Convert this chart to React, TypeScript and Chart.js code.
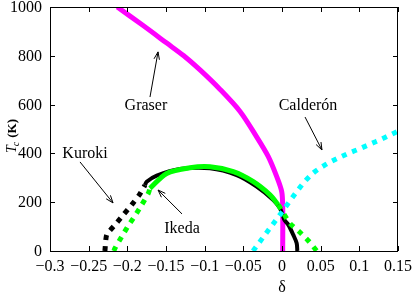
import React, { useEffect, useRef } from "react";
import { Chart, registerables } from "chart.js";

Chart.register(...registerables);

// ---- data (delta, Tc in K) ----
const graserX = [-0.213, -0.18, -0.149, -0.127, -0.106, -0.08, -0.054, -0.033, -0.0177, -0.0068, -0.0004, 0.0009, 0.0009];
const graserY = [1000, 925, 852, 800, 742, 662, 571, 469, 387, 305, 244, 181, 0];

const kurokiDotX = [-0.229, -0.2267, -0.216, -0.2052, -0.1944, -0.1845, -0.1772];
const kurokiDotY = [0, 66, 107, 148, 189, 230, 270];

const kurokiX = [-0.1772, -0.175, -0.162, -0.132, -0.093, -0.0586, -0.0327, -0.0112, -0.0026, 0.0005, 0.003, 0.0082, 0.0146, 0.019, 0.0198];
const kurokiY = [270, 284, 309, 336, 339, 311, 264, 209, 175, 150, 128, 107, 66, 32, 0];

const ikedaDotLX = [-0.2175, -0.216, -0.2073, -0.1987, -0.19, -0.1814, -0.1729, -0.1707];
const ikedaDotLY = [0, 11, 59, 104, 145, 189, 236, 257];

const ikedaX = [-0.1707, -0.1491, -0.119, -0.0931, -0.063, -0.0371, -0.0155, -0.0048];
const ikedaY = [257, 318, 341, 345, 325, 284, 230, 189];

const ikedaDotRX = [-0.0048, 0.0104, 0.0224, 0.0353, 0.045];
const ikedaDotRY = [189, 113, 79, 38, 0];

const calderonX = [-0.0375, -0.02, 0.0, 0.019, 0.0289, 0.0405, 0.0543, 0.0695, 0.085, 0.101, 0.116, 0.131, 0.146, 0.15];
const calderonY = [0, 75, 160, 243, 283, 320, 350, 376, 399, 420, 441, 462, 485, 491];

const xTicks = [-0.3, -0.25, -0.2, -0.15, -0.1, -0.05, 0, 0.05, 0.1, 0.15];
const yTicks = [0, 200, 400, 600, 800, 1000];

// annotation labels: text, text position, arrow start, arrow end (data coords)
const labelTexts = ["Graser", "Calderón", "Kuroki", "Ikeda"];
const labelPos = [[-0.176, 598], [0.0336, 598], [-0.2547, 402], [-0.1293, 94]];
const arrowFrom = [[-0.1707, 631], [0.0298, 549], [-0.2612, 365], [-0.1293, 152]];
const arrowTo = [[-0.1603, 816], [0.0517, 414], [-0.2185, 197], [-0.1603, 250]];

const zip = (xs: number[], ys: number[]) => xs.map((x, i) => ({ x, y: ys[i] }));
const fmt = (v: number) => {
  const s = String(Number(v.toFixed(2)));
  return s.replace("-", "\u2212");
};

const FONT = '"Liberation Serif"';

function txt(ctx: any, s: string, x: number, y: number, size: number, style: string, align: string) {
  ctx.save();
  ctx.font = style ? `${style} ${size}px ${FONT}` : `${size}px ${FONT}`;
  ctx.textAlign = align;
  ctx.textBaseline = "alphabetic";
  ctx.fillText(s, x, y);
  const w = ctx.measureText(s).width;
  ctx.restore();
  return w;
}

const decor = {
  id: "decor",
  afterDraw(chart: any) {
    const { ctx, chartArea: a, scales } = chart;
    const xs = scales.x, ys = scales.y;
    ctx.save();
    ctx.strokeStyle = "#000";
    ctx.fillStyle = "#000";
    ctx.lineWidth = 1;
    ctx.strokeRect(a.left + 0.5, a.top + 0.5, a.right - a.left - 1, a.bottom - a.top);
    ctx.beginPath();
    const tl = 5;
    xTicks.forEach((t) => {
      const px = Math.round(xs.getPixelForValue(t)) + 0.5;
      ctx.moveTo(px, a.bottom); ctx.lineTo(px, a.bottom - tl);
      ctx.moveTo(px, a.top); ctx.lineTo(px, a.top + tl);
    });
    yTicks.forEach((t) => {
      const py = Math.round(ys.getPixelForValue(t)) + 0.5;
      ctx.moveTo(a.left, py); ctx.lineTo(a.left + tl, py);
      ctx.moveTo(a.right, py); ctx.lineTo(a.right - tl, py);
    });
    ctx.stroke();

    // tick labels
    xTicks.forEach((t) => txt(ctx, fmt(t), xs.getPixelForValue(t), a.bottom + 20, 16, "", "center"));
    yTicks.forEach((t) => txt(ctx, fmt(t), a.left - 8, ys.getPixelForValue(t) + 5, 16, "", "right"));

    // annotations
    labelTexts.forEach((t, i) => {
      txt(ctx, t, xs.getPixelForValue(labelPos[i][0]), ys.getPixelForValue(labelPos[i][1]) + 5, 16, "", "center");
      const x1 = xs.getPixelForValue(arrowFrom[i][0]), y1 = ys.getPixelForValue(arrowFrom[i][1]);
      const x2 = xs.getPixelForValue(arrowTo[i][0]), y2 = ys.getPixelForValue(arrowTo[i][1]);
      ctx.beginPath();
      ctx.moveTo(x1, y1); ctx.lineTo(x2, y2);
      const ang = Math.atan2(y2 - y1, x2 - x1);
      const h = 8, w = 0.35;
      ctx.moveTo(x2 - h * Math.cos(ang - w), y2 - h * Math.sin(ang - w));
      ctx.lineTo(x2, y2);
      ctx.lineTo(x2 - h * Math.cos(ang + w), y2 - h * Math.sin(ang + w));
      ctx.stroke();
    });

    // x title
    txt(ctx, "\u03b4", xs.getPixelForValue(0), 292, 16, "", "center");

    // y title (rotated)
    ctx.translate(16, 153);
    ctx.rotate(-Math.PI / 2);
    let w0 = txt(ctx, "T", 0, 0, 14, "italic", "left");
    w0 += txt(ctx, "c", w0 - 1, 3, 10, "italic", "left") + 2;
    txt(ctx, "(K)", w0 + 1, 0, 13, "bold", "left");
    ctx.restore();
  },
};

export default function App() {
  const ref = useRef<HTMLCanvasElement>(null);
  useEffect(() => {
    if (!ref.current) return;
    const solid = (data: any, color: string, width: number, order: number) => ({
      data, borderColor: color, borderWidth: width, pointRadius: 0, fill: false,
      tension: 0.3, showLine: true, order, borderCapStyle: "butt", borderJoinStyle: "round",
    });
    const dotted = (data: any, color: string, order: number, mono = false) => ({
      data, borderColor: color, borderWidth: 5, pointRadius: 0, fill: false,
      tension: 0.2, cubicInterpolationMode: mono ? "monotone" : "default",
      showLine: true, order, borderDash: [5, 6], borderCapStyle: "butt",
    });
    const chart = new Chart(ref.current, {
      type: "scatter",
      data: {
        datasets: [
          solid(zip(graserX, graserY), "#ff00ff", 5, 5),
          dotted(zip(kurokiDotX, kurokiDotY), "#000000", 4),
          solid(zip(kurokiX, kurokiY), "#000000", 4, 4),
          dotted(zip(ikedaDotLX, ikedaDotLY), "#00ff00", 3),
          solid(zip(ikedaX, ikedaY), "#00ff00", 5, 3),
          dotted(zip(ikedaDotRX, ikedaDotRY), "#00ff00", 3),
          dotted(zip(calderonX, calderonY), "#00ffff", 1, true),
        ] as any,
      },
      options: {
        animation: false,
        responsive: false,
        events: [],
        layout: { padding: { top: 7, right: 17, left: 0, bottom: 0 } },
        plugins: { legend: { display: false }, tooltip: { enabled: false } },
        scales: {
          x: {
            type: "linear", min: -0.3, max: 0.15,
            grid: { display: false, drawTicks: false },
            border: { display: false },
            ticks: { display: false },
            afterFit: (s: any) => { s.height = 44; },
          },
          y: {
            type: "linear", min: 0, max: 1000,
            grid: { display: false, drawTicks: false },
            border: { display: false },
            ticks: { display: false },
            afterFit: (s: any) => { s.width = 50; },
          },
        },
      } as any,
      plugins: [decor],
    });
    return () => chart.destroy();
  }, []);
  return (
    <div style={{ position: "fixed", left: 0, top: 0, width: 415, height: 295, background: "#fff" }}>
      <canvas ref={ref} width={415} height={295} style={{ width: 415, height: 295, display: "block" }} />
    </div>
  );
}
